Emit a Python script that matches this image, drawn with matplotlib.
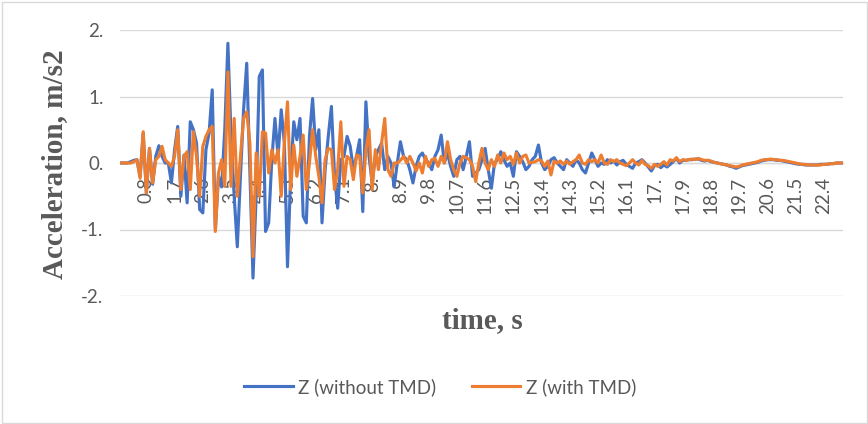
import matplotlib
matplotlib.use('Agg')
import matplotlib.pyplot as plt
import matplotlib.transforms as mtransforms
from matplotlib.patches import Rectangle

# vertical acceleration, sampled every 0.1 s
z_without_tmd = [
    0.0, 0.0, 0.0, 0.02, 0.04, 0.05, -0.2, 0.45, -0.45, 0.22,
    -0.32, 0.1, 0.26, 0.1, 0.0, 0.0, -0.3, 0.2, 0.55, -0.5,
    0.12, -0.6, 0.62, 0.5, 0.3, -0.7, -0.75, 0.2, 0.45, 1.1,
    -1.0, -0.2, -0.36, 0.5, 1.8, 0.4, -0.5, -1.26, -0.2, 0.8,
    1.5, -0.1, -1.73, -0.5, 1.3, 1.4, -1.03, -0.9, 0.05, 0.67,
    0.1, 0.8, 0.3, -1.56, -0.2, 0.62, 0.35, 0.67, -0.8, -0.9,
    0.4, 0.97, 0.2, 0.5, -0.9, -0.1, 0.4, 0.85, -0.2, -0.68,
    0.05, 0.1, 0.4, 0.25, -0.1, 0.1, 0.35, -0.73, 0.92, 0.1,
    -0.3, 0.1, 0.2, 0.3, -0.1, 0.1, 0.0, -0.36, 0.0, 0.32,
    0.1, 0.05, -0.1, -0.3, -0.05, 0.1, 0.15, 0.05, 0.0, -0.1,
    0.1, 0.2, 0.42, 0.0, 0.15, -0.05, -0.2, 0.05, 0.1, -0.1,
    0.1, 0.32, -0.2, -0.15, -0.1, 0.05, 0.22, -0.1, -0.38, 0.0,
    0.05, 0.17, 0.05, -0.05, 0.0, -0.2, 0.17, 0.1, 0.02, -0.1,
    -0.05, 0.05, 0.1, 0.27, 0.0, -0.1, -0.05, 0.05, 0.08, 0.0,
    -0.05, -0.1, 0.05, 0.0, -0.05, 0.05, 0.0, -0.1, -0.15, 0.0,
    0.15, 0.05, -0.05, 0.0, -0.02, 0.05, 0.0, 0.03, -0.03, 0.02,
    0.04, -0.02, -0.05, -0.08, 0.0, 0.02, 0.05, 0.0, -0.06, -0.12,
    -0.04, -0.02, -0.07, -0.03, -0.06, -0.02, 0.02, 0.07, 0.0, 0.04,
    0.04, 0.05, 0.05, 0.06, 0.06, 0.04, 0.03, 0.04, 0.02, 0.01,
    0.0, -0.01, -0.02, -0.03, -0.05, -0.06, -0.08, -0.06, -0.04, -0.03,
    -0.02, -0.01, 0.0, 0.01, 0.03, 0.04, 0.05, 0.05, 0.05, 0.04,
    0.04, 0.03, 0.02, 0.01, 0.0, -0.01, -0.02, -0.02, -0.03, -0.03,
    -0.03, -0.03, -0.03, -0.02, -0.02, -0.02, -0.01, -0.01, 0.0, 0.0,
    0.0,
]

z_with_tmd = [
    0.0, 0.0, 0.0, 0.0, 0.02, 0.05, -0.23, 0.47, -0.45, 0.22,
    -0.3, 0.05, 0.1, 0.25, 0.05, 0.0, -0.05, 0.1, 0.5, -0.4,
    0.1, 0.17, -0.4, 0.47, 0.1, -0.5, 0.25, 0.4, 0.5, 0.55,
    -1.03, -0.15, 0.05, -0.35, 1.37, -0.35, 0.67, -0.5, 0.1, 0.67,
    0.77, 0.3, -1.41, 0.15, -0.5, 0.47, 0.45, -0.15, 0.2, 0.0,
    0.2, -0.5, 0.3, 0.92, -0.4, 0.27, -0.2, 0.1, 0.42, -0.4,
    0.0, 0.5, 0.1, -0.2, -0.6, 0.05, 0.22, 0.2, -0.4, -0.1,
    0.62, -0.35, 0.1, 0.05, -0.25, 0.12, 0.1, -0.45, 0.2, 0.5,
    -0.4, 0.2, -0.1, 0.3, 0.67, -0.1, -0.2, 0.0, 0.0, 0.04,
    0.1, 0.0, 0.1, 0.0, -0.12, 0.0, -0.15, 0.1, -0.05, 0.05,
    0.07, -0.05, 0.1, 0.0, 0.32, 0.05, -0.1, -0.2, 0.0, 0.1,
    0.08, 0.05, -0.05, -0.28, 0.0, 0.22, 0.0, -0.1, 0.05, -0.05,
    0.12, 0.0, 0.15, 0.05, 0.1, -0.02, 0.15, 0.0, 0.1, 0.12,
    0.0, 0.01, 0.02, 0.05, 0.03, -0.05, 0.03, -0.18, 0.03, 0.0,
    0.03, -0.02, 0.03, -0.02, 0.02, 0.05, 0.12, 0.0, -0.02, 0.05,
    0.02, 0.05, 0.0, 0.12, 0.0, -0.02, 0.05, 0.02, 0.05, 0.0,
    -0.02, -0.04, 0.0, 0.05, 0.0, -0.03, 0.04, -0.02, -0.04, -0.08,
    -0.02, -0.05, -0.02, 0.02, -0.03, 0.05, 0.03, 0.08, 0.02, 0.05,
    0.04, 0.05, 0.06, 0.05, 0.07, 0.05, 0.04, 0.04, 0.03, 0.01,
    0.0, -0.01, -0.02, -0.03, -0.04, -0.05, -0.06, -0.05, -0.03, -0.02,
    -0.01, 0.0, 0.01, 0.02, 0.04, 0.05, 0.05, 0.06, 0.05, 0.05,
    0.04, 0.04, 0.03, 0.02, 0.01, 0.0, -0.01, -0.02, -0.02, -0.03,
    -0.03, -0.03, -0.03, -0.03, -0.02, -0.02, -0.01, -0.01, 0.0, 0.0,
    0.0,
]

y_ticks = [-2, -1, 0, 1, 2]
y_labels = ['-2.', '-1.', '0.', '1.', '2.']
label_step = 9      # show every 9th time value
label_first = 8

gray = '#595959'
grid_gray = '#D9D9D9'
blue = '#4472C4'
orange = '#ED7D31'

plt.rcParams['font.family'] = ['Lato', 'DejaVu Sans']

n = len(z_without_tmd)
idx = list(range(n))
times = [i / 10 for i in idx]


def fmt_time(t):
    s = '%.1f' % t
    return s[:-1] if s.endswith('0') else s


fig = plt.figure(figsize=(8.68, 4.24), dpi=100)
ax = fig.add_axes([120 / 868, 1 - 296 / 424, 723 / 868, 266 / 424])

ax.plot(idx, z_without_tmd, color=blue, lw=2.25, solid_joinstyle='round', zorder=3)
ax.plot(idx, z_with_tmd, color=orange, lw=2.25, solid_joinstyle='round', zorder=4)

ax.set_xlim(-0.4, n - 1 + 0.1)
ax.set_ylim(-2, 2)

ax.set_yticks(y_ticks)
ax.set_yticklabels(y_labels)
ax.yaxis.grid(True, color=grid_gray, lw=1)
ax.set_axisbelow(True)

tick_pos = idx[label_first::label_step]
ax.set_xticks(tick_pos)
ax.set_xticklabels([fmt_time(times[i]) for i in tick_pos])

ax.tick_params(axis='both', length=0, labelsize=13.5, labelcolor=gray)
ax.tick_params(axis='x', pad=10, labelrotation=90)
ax.tick_params(axis='y', pad=12)

# rotated time labels hang below the zero line, nudged right of their tick
shift = mtransforms.ScaledTranslation(6.5 / 100, 0, fig.dpi_scale_trans)
for lab in ax.get_xticklabels():
    lab.set_verticalalignment('top')
    lab.set_transform(lab.get_transform() + shift)

for side in ['top', 'right', 'left']:
    ax.spines[side].set_visible(False)
ax.spines['bottom'].set_position(('data', 0))
ax.spines['bottom'].set_color(grid_gray)
ax.spines['bottom'].set_linewidth(1)

fig.text(55 / 868, 1 - 164 / 424, 'Acceleration, m/s2', rotation=90, ha='center', va='center',
         family='Liberation Serif', fontweight='bold', fontsize=21, color=gray)
fig.text(482 / 868, 1 - 321 / 424, 'time, s', ha='center', va='center',
         family='Liberation Serif', fontweight='bold', fontsize=21, color=gray)

fig.legend(['Z (without TMD)', 'Z (with TMD)'], loc='center', ncol=2, frameon=False,
           bbox_to_anchor=(440 / 868, 1 - 387 / 424), fontsize=13.5, labelcolor=gray,
           handlelength=2.6, handletextpad=0.27, columnspacing=1.9)

fig.add_artist(Rectangle((1.5 / 868, 1.5 / 424), 865 / 868, 421 / 424, transform=fig.transFigure,
                         fill=False, edgecolor=grid_gray, lw=1))

fig.savefig('out.png', dpi=100)
